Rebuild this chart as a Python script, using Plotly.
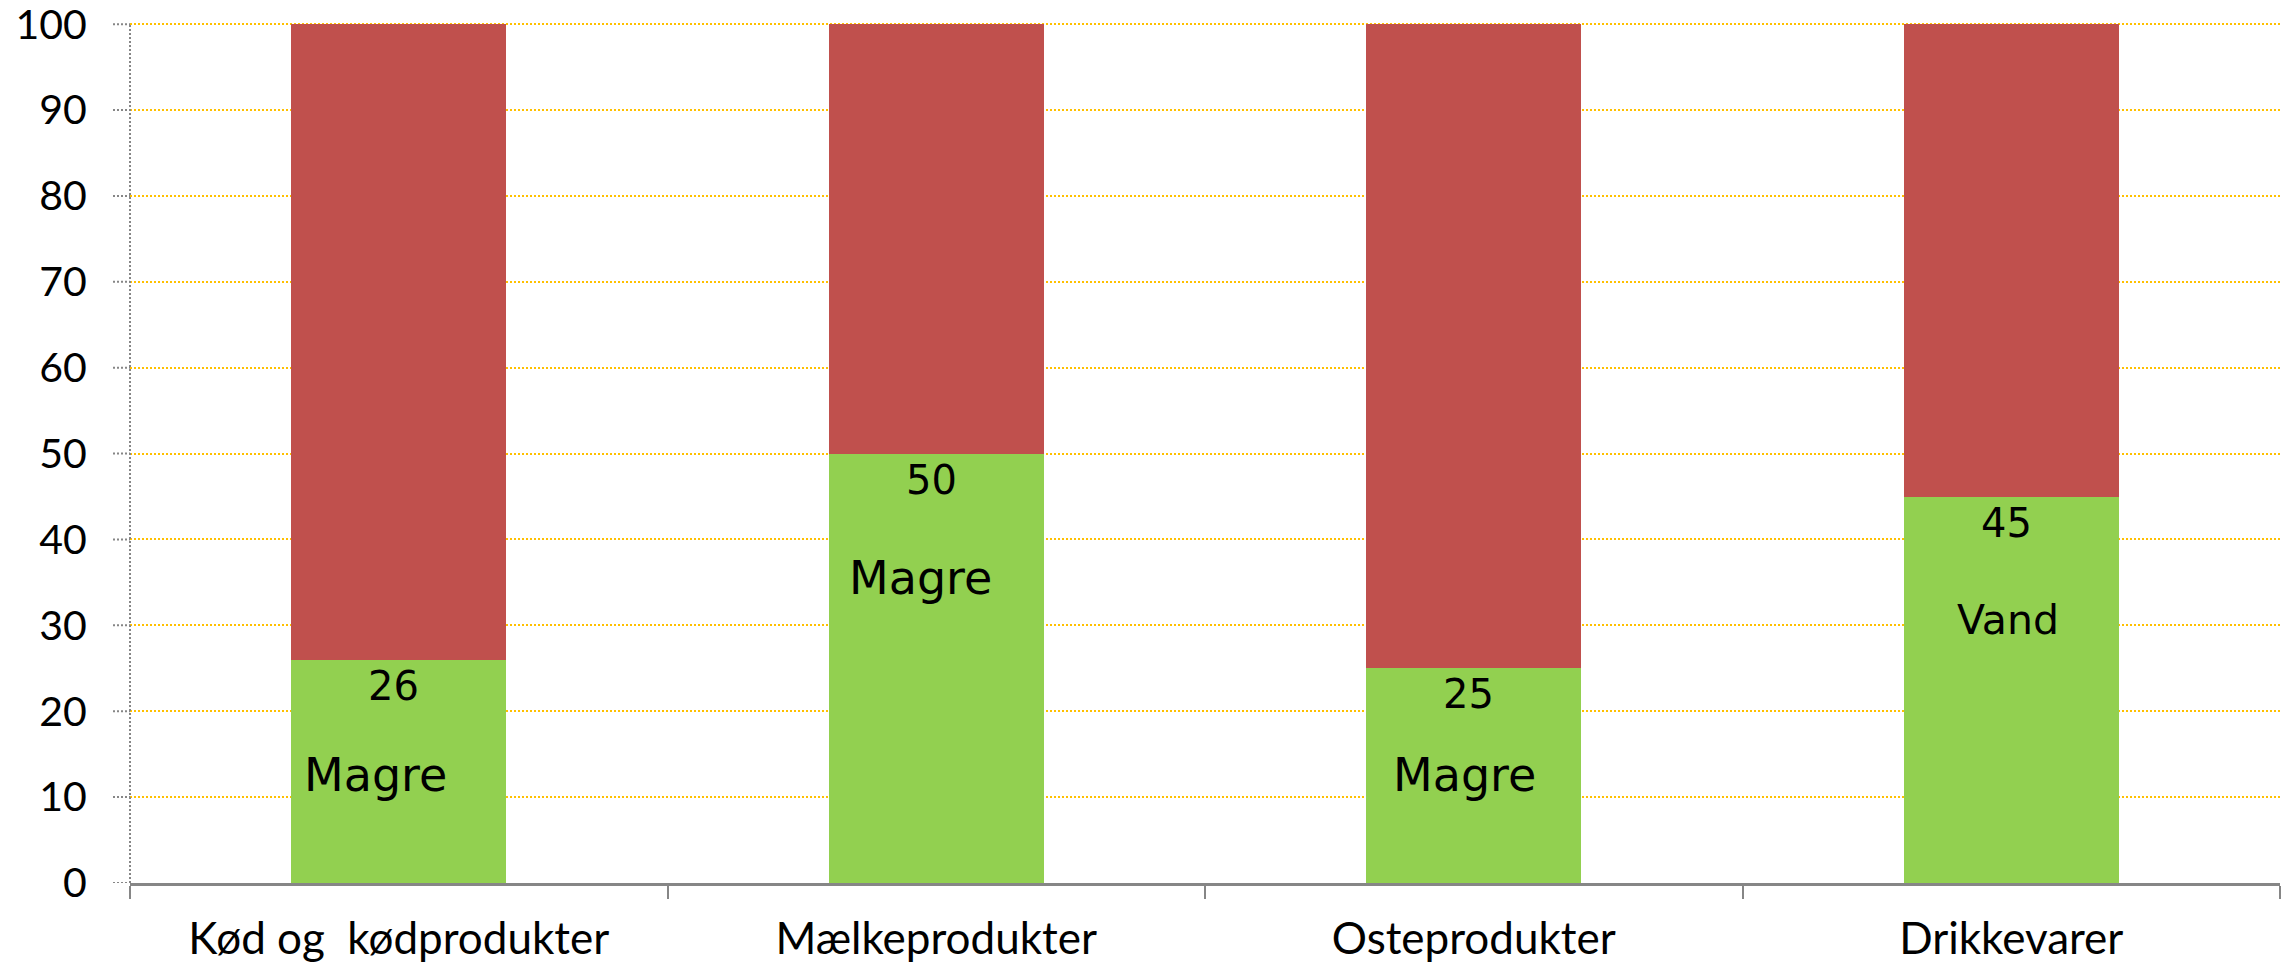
import plotly.graph_objects as go

# Share of products (%) per food group
categories = ["Kød og\u00a0 kødprodukter", "Mælkeprodukter", "Osteprodukter", "Drikkevarer"]
lean_share = [26, 50, 25, 45]      # green part
other_share = [74, 50, 75, 55]     # red part
inner_labels = ["Magre", "Magre", "Magre", "Vand"]
y_ticks = [0, 10, 20, 30, 40, 50, 60, 70, 80, 90, 100]

GREEN = "#92D050"
RED = "#C0504D"
GRID = "#FFC000"
AXIS = "#868686"

fig = go.Figure()
fig.add_trace(go.Bar(x=categories, y=lean_share, marker=dict(color=GREEN, line=dict(width=0)),
                     width=0.4, hoverinfo="skip"))
fig.add_trace(go.Bar(x=categories, y=other_share, marker=dict(color=RED, line=dict(width=0)),
                     width=0.4, hoverinfo="skip"))

# value labels just inside the top of each green segment
for cat, v in zip(categories, lean_share):
    fig.add_annotation(x=cat, y=v, text=str(v), showarrow=False, yshift=-26, xshift=-5,
                       font=dict(family="DejaVu Sans", size=40, color="black"))

# descriptive words inside the green segments
note_y = [12.6, 35.5, 12.6, 30.6]
note_dx = [-23, -16, -9, -3]
note_size = [46, 46, 46, 41]
for cat, txt, ny, dx, fs in zip(categories, inner_labels, note_y, note_dx, note_size):
    fig.add_annotation(x=cat, y=ny, text=txt, showarrow=False, xshift=dx,
                       font=dict(family="DejaVu Sans", size=fs, color="black"))

# dotted vertical axis line and dotted tick marks
shapes = [dict(type="line", xref="paper", yref="y", x0=0, x1=0, y0=0, y1=100,
               line=dict(color=AXIS, width=2, dash="2px,2px"), layer="above")]
for t in y_ticks:
    shapes.append(dict(type="line", xref="paper", yref="y", x0=-17 / 2150, x1=0, y0=t, y1=t,
                       line=dict(color=AXIS, width=2, dash="2px,2px"), layer="above"))

fig.update_layout(
    width=2287, height=968,
    margin=dict(l=130, r=7, t=22, b=85),
    barmode="stack",
    showlegend=False,
    plot_bgcolor="white",
    paper_bgcolor="white",
    shapes=shapes,
    xaxis=dict(
        automargin=False,
        showgrid=False, zeroline=False,
        showline=True, linecolor=AXIS, linewidth=3,
        ticks="outside", tickson="boundaries", ticklen=13, tickwidth=2, tickcolor=AXIS,
        tickfont=dict(family="Lato", size=44, color="black"),
        ticklabelstandoff=15,
    ),
    yaxis=dict(
        automargin=False,
        range=[0, 100.25], tickvals=y_ticks,
        showgrid=True, gridcolor=GRID, gridwidth=2, griddash="2px,2px",
        zeroline=False, showline=False,
        ticks="outside", ticklen=17, tickcolor="rgba(0,0,0,0)",
        tickfont=dict(family="Lato", size=41, color="black"),
        ticklabelstandoff=17, ticklabeloverflow="allow",
    ),
)

fig.write_html("out.html")
